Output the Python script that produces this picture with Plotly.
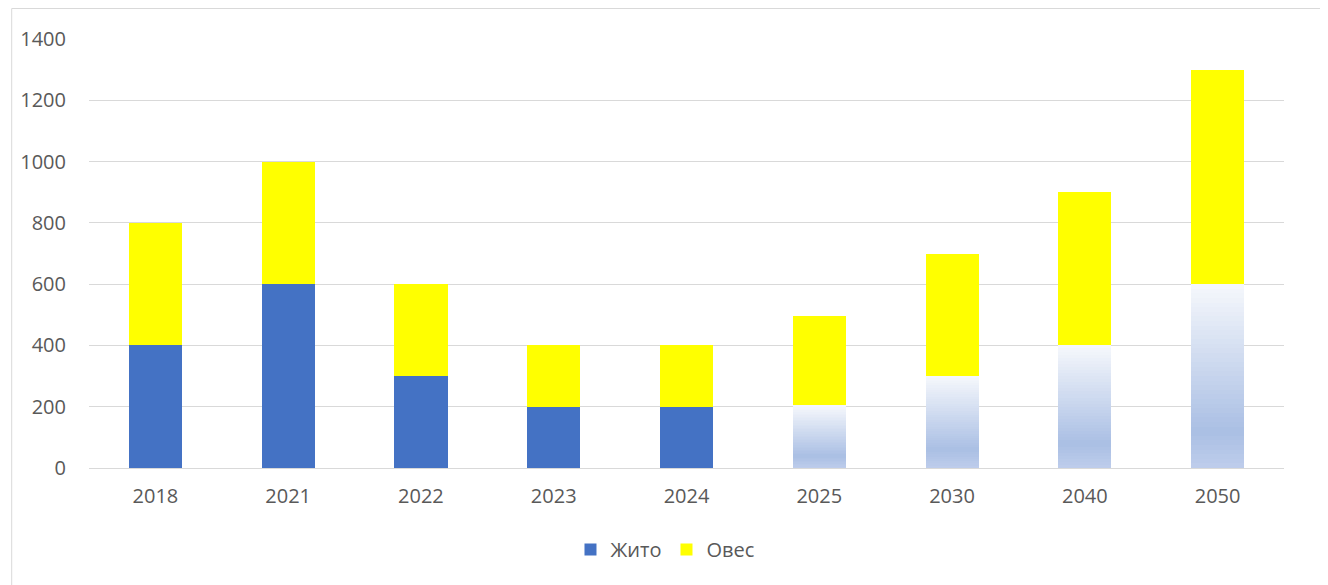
import plotly.graph_objects as go

years = ["2018", "2021", "2022", "2023", "2024", "2025", "2030", "2040", "2050"]
zhyto = [400, 600, 300, 200, 200, 205, 300, 400, 600]
oves = [400, 400, 300, 200, 200, 290, 400, 500, 700]
forecast = [False, False, False, False, False, True, True, True, True]

BLUE = "#4472C4"
YELLOW = "#FFFF00"
TEXT = "#595959"
GRID = "#D9D9D9"

# gradient stops for forecast bars (0 = top, 1 = bottom)
stops = [(0.0, (246, 248, 252)), (0.8, (170, 191, 228)), (1.0, (190, 205, 235))]


def grad_color(t):
    for (t0, c0), (t1, c1) in zip(stops[:-1], stops[1:]):
        if t0 <= t <= t1:
            f = (t - t0) / (t1 - t0) if t1 > t0 else 0
            c = [round(a + (b - a) * f) for a, b in zip(c0, c1)]
            return "rgb(%d,%d,%d)" % tuple(c)
    return "rgb(%d,%d,%d)" % stops[-1][1]


fig = go.Figure()
fig.add_trace(go.Bar(
    x=years, y=[v if not f else 0 for v, f in zip(zhyto, forecast)],
    name="Жито", marker=dict(color=BLUE, line=dict(width=0)),
))

N = 40
for i in range(N):
    t = 1 - (i + 0.5) / N  # i = 0 is the bottom segment
    fig.add_trace(go.Bar(
        x=years, y=[v / N if f else 0 for v, f in zip(zhyto, forecast)],
        showlegend=False, hoverinfo="skip",
        marker=dict(color=grad_color(t), line=dict(width=0)),
    ))

fig.add_trace(go.Bar(
    x=years, y=oves, name="Овес",
    marker=dict(color=YELLOW, line=dict(width=0)),
))

W, H = 1328, 585
L, R, T, B = 78, 52, 31, 125
pw, ph = W - L - R, H - T - B

fig.update_layout(
    width=W, height=H,
    barmode="stack", bargap=0.6,
    paper_bgcolor="white", plot_bgcolor="white",
    margin=dict(l=L, r=R, t=T, b=B),
    font=dict(family="Open Sans, Liberation Sans, sans-serif", size=20, color=TEXT),
    legend=dict(orientation="h", x=0.482, xanchor="center", y=-0.19, yanchor="middle",
                font=dict(size=20, color=TEXT), traceorder="normal", itemwidth=30),
    xaxis=dict(type="category", showgrid=False, showline=True, linecolor=GRID, linewidth=1,
               ticks="", ticklabelstandoff=10, tickfont=dict(size=20, color=TEXT)),
    yaxis=dict(range=[0, 1400], dtick=200, showgrid=True, gridcolor=GRID, gridwidth=1,
               zeroline=False, showline=False, ticks="", ticklabelstandoff=22,
               tickfont=dict(size=20, color=TEXT)),
    shapes=[dict(type="rect", xref="paper", yref="paper",
                 x0=(0.5 - L) / pw, x1=1.2, y0=-0.5, y1=(ph + T - 0.5) / ph,
                 line=dict(color=GRID, width=1), fillcolor="rgba(0,0,0,0)", layer="below")],
)

fig.write_html("out.html")
